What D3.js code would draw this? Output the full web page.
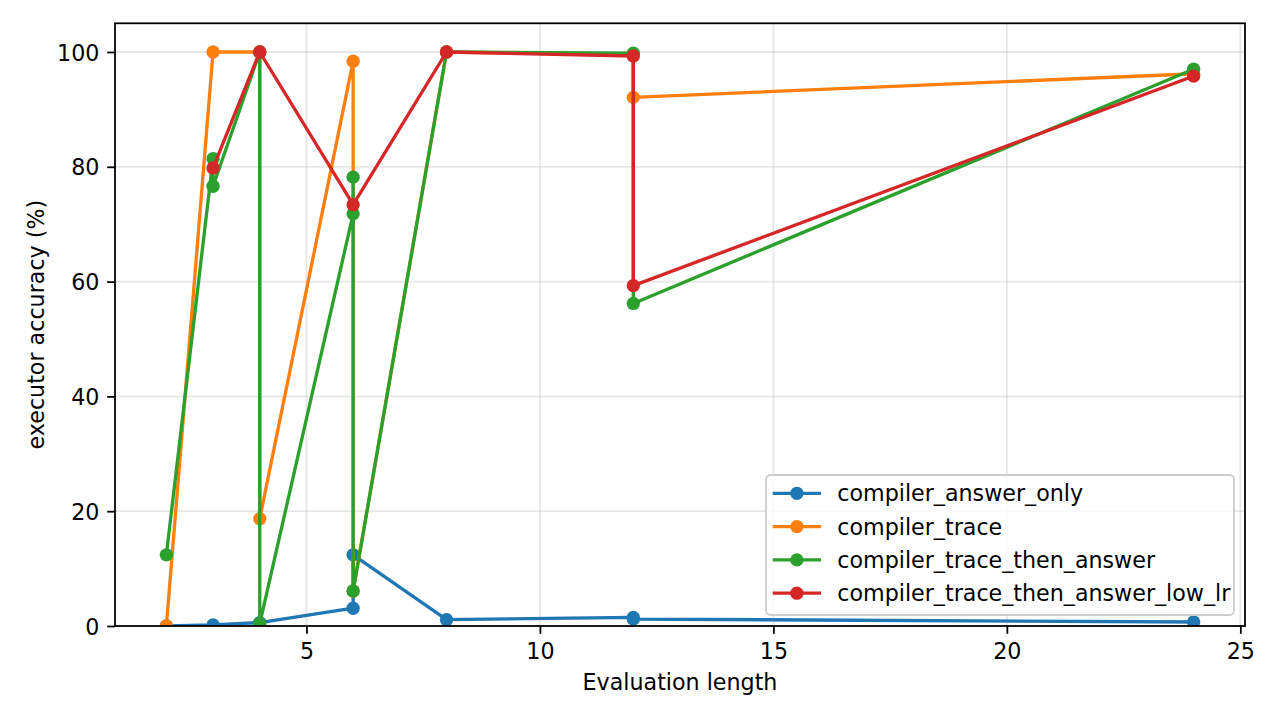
<!DOCTYPE html>
<html>
<head>
<meta charset="utf-8">
<script src="https://cdn.jsdelivr.net/npm/d3@7"></script>
<style>
  html, body { margin: 0; padding: 0; background: #fff; }
  svg { display: block; }
  text { font-family: "DejaVu Sans", sans-serif; fill: #000; }
</style>
</head>
<body>
<svg id="chart" width="1280" height="720"></svg>
<script>
// ---- data ----
const seriesNames = ["compiler_answer_only", "compiler_trace", "compiler_trace_then_answer", "compiler_trace_then_answer_low_lr"];
const seriesColors = ["#1f77b4", "#ff7f0e", "#2ca02c", "#d62728"];

const answerOnlyX = [2, 3, 4, 6, 6, 8, 12, 12, 24];
const answerOnlyY = [0, 0.2, 0.6, 3.1, 12.4, 1.1, 1.5, 1.2, 0.7];

const traceX = [2, 3, 4, 4, 6, 6, 8, 12, 12, 24];
const traceY = [0, 100, 100, 18.7, 98.4, 6.1, 100, 99.5, 92.1, 96.2];

const traceThenAnswerX = [2, 3, 3, 4, 4, 6, 6, 6, 8, 12, 12, 24];
const traceThenAnswerY = [12.4, 81.4, 76.6, 100, 0.4, 71.8, 78.2, 6.1, 100, 99.8, 56.2, 97.0];

const lowLrX = [3, 4, 6, 8, 12, 12, 24];
const lowLrY = [79.8, 100, 73.4, 100, 99.3, 59.3, 95.8];

const xTicks = [5, 10, 15, 20, 25];
const yTicks = [0, 20, 40, 60, 80, 100];
const xLabel = "Evaluation length";
const yLabel = "executor accuracy (%)";

const seriesX = [answerOnlyX, traceX, traceThenAnswerX, lowLrX];
const seriesY = [answerOnlyY, traceY, traceThenAnswerY, lowLrY];

(function () {
// ---- layout ----
const pL = 115, pR = 1245, pT = 23.3, pB = 626;
const fs = 22.2;
const lw = 3.33;
const mr = 6.67;
const tickLen = 7.8;
const spineW = 1.78;

const svg = d3.select("#chart");
const x = d3.scaleLinear().domain([0.9, 25.1]).range([pL, pR]);
const y = d3.scaleLinear().domain([0, 105]).range([pB, pT]);

svg.append("defs").append("clipPath").attr("id", "plotclip")
  .append("rect").attr("x", pL).attr("y", pT).attr("width", pR - pL).attr("height", pB - pT);

// grid
const grid = svg.append("g");
grid.selectAll(".gx").data(xTicks).enter().append("line")
  .attr("x1", d => x(d)).attr("x2", d => x(d)).attr("y1", pT).attr("y2", pB)
  .attr("stroke", "#b0b0b0").attr("stroke-opacity", 0.3).attr("stroke-width", 1.78);
grid.selectAll(".gy").data(yTicks).enter().append("line")
  .attr("x1", pL).attr("x2", pR).attr("y1", d => y(d)).attr("y2", d => y(d))
  .attr("stroke", "#b0b0b0").attr("stroke-opacity", 0.3).attr("stroke-width", 1.78);

// series
const plot = svg.append("g").attr("clip-path", "url(#plotclip)");
const lineGen = d3.line().x(d => x(d[0])).y(d => y(d[1]));
seriesNames.forEach((name, i) => {
  const pts = seriesX[i].map((xv, j) => [xv, seriesY[i][j]]);
  const g = plot.append("g");
  g.append("path").attr("d", lineGen(pts)).attr("fill", "none")
    .attr("stroke", seriesColors[i]).attr("stroke-width", lw)
    .attr("stroke-linejoin", "round").attr("stroke-linecap", "square");
  g.selectAll("circle").data(pts).enter().append("circle")
    .attr("cx", d => x(d[0])).attr("cy", d => y(d[1])).attr("r", mr)
    .attr("fill", seriesColors[i]);
});

// axes
const xAxis = d3.axisBottom(x).tickValues(xTicks).tickSize(tickLen).tickPadding(7.8).tickFormat(d3.format("d"));
const yAxis = d3.axisLeft(y).tickValues(yTicks).tickSize(tickLen).tickPadding(7.8).tickFormat(d3.format("d"));
const gx = svg.append("g").attr("transform", `translate(0,${pB})`).call(xAxis);
const gy = svg.append("g").attr("transform", `translate(${pL},0)`).call(yAxis);
[gx, gy].forEach(g => {
  g.select(".domain").remove();
  g.selectAll(".tick line").attr("stroke", "#000").attr("stroke-width", spineW);
  g.selectAll(".tick text").attr("font-size", fs).attr("font-family", "DejaVu Sans").attr("fill", "#000");
});
gx.selectAll(".tick text").attr("dy", null).attr("y", 33.2);
gy.selectAll(".tick text").attr("dy", null).attr("y", 8);

// spines
svg.append("rect").attr("x", pL).attr("y", pT).attr("width", pR - pL).attr("height", pB - pT)
  .attr("fill", "none").attr("stroke", "#000").attr("stroke-width", spineW);

// axis labels
svg.append("text").attr("x", (pL + pR) / 2).attr("y", 690).attr("text-anchor", "middle")
  .attr("font-size", fs).text(xLabel);
svg.append("text").attr("transform", `translate(43.5,${(pT + pB) / 2}) rotate(-90)`)
  .attr("text-anchor", "middle").attr("font-size", fs).text(yLabel);

// legend
const lg = svg.append("g");
const lgX = 766, lgY = 475, lgW = 468, lgH = 140;
lg.append("rect").attr("x", lgX).attr("y", lgY).attr("width", lgW).attr("height", lgH)
  .attr("rx", 4.4).attr("ry", 4.4)
  .attr("fill", "#fff").attr("fill-opacity", 0.8)
  .attr("stroke", "#cccccc").attr("stroke-width", 1.78);
seriesNames.forEach((name, i) => {
  const cy = 493.3 + i * 33.3;
  lg.append("line").attr("x1", 772.7).attr("x2", 821).attr("y1", cy).attr("y2", cy)
    .attr("stroke", seriesColors[i]).attr("stroke-width", lw);
  lg.append("circle").attr("cx", 796.9).attr("cy", cy).attr("r", mr).attr("fill", seriesColors[i]);
  lg.append("text").attr("x", 837.3).attr("y", cy + 8).attr("font-size", fs).text(name);
});
})();
</script>
</body>
</html>
